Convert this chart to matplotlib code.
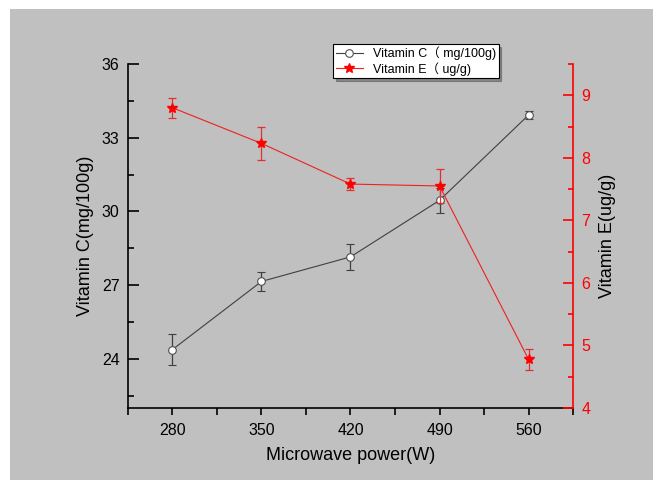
import matplotlib.pyplot as plt
from matplotlib.patches import Rectangle
from matplotlib.ticker import MultipleLocator

plt.rcParams['font.family'] = ['Liberation Sans', 'Noto Sans CJK SC', 'DejaVu Sans']

power = [280, 350, 420, 490, 560]
vit_c = [24.38, 27.15, 28.15, 30.45, 33.92]
vit_c_err = [0.64, 0.37, 0.52, 0.5, 0.15]
vit_e = [8.80, 8.23, 7.58, 7.55, 4.78]
vit_e_err = [0.16, 0.27, 0.09, 0.27, 0.17]

fig = plt.figure(figsize=(6.53, 4.8), dpi=100)
fig.patch.set_facecolor('white')
fig.patches.append(Rectangle((10 / 653, 0), 1, 1 - 9 / 480, transform=fig.transFigure,
                             facecolor='#c0c0c0', edgecolor='none', zorder=-10))

ax = fig.add_axes([0.196, 0.15, 0.6815, 0.7167])
ax.set_facecolor('none')
ax2 = ax.twinx()
ax2.set_facecolor('none')

l1 = ax.errorbar(power, vit_c, yerr=vit_c_err, color='#404040', lw=0.8, marker='o',
                 ms=5.5, mfc='white', mec='#505050', mew=0.8, capsize=3, elinewidth=0.9,
                 capthick=0.9, label='Vitamin C\uff08 mg/100g)')
l2 = ax2.errorbar(power, vit_e, yerr=vit_e_err, color='#f02020', lw=0.8, marker='*',
                  ms=7, mfc='red', mec='red', capsize=3, elinewidth=0.9,
                  capthick=0.9, ecolor='#e03030', label='Vitamin E\uff08 ug/g)')

ax.set_xlim(245, 595)
ax.set_ylim(22, 36)
ax2.set_ylim(4, 9.5)

ax.xaxis.set_major_locator(MultipleLocator(70))
ax.xaxis.set_minor_locator(MultipleLocator(35))
ax.yaxis.set_major_locator(MultipleLocator(3))
ax.yaxis.set_minor_locator(MultipleLocator(1.5))
ax2.yaxis.set_major_locator(MultipleLocator(1))
ax2.yaxis.set_minor_locator(MultipleLocator(0.5))

for a in (ax, ax2):
    a.spines['top'].set_visible(False)
ax.spines['right'].set_visible(False)
ax2.spines['left'].set_visible(False)
ax2.spines['bottom'].set_visible(False)
ax2.spines['right'].set_color('red')
ax2.spines['right'].set_linewidth(1.2)
ax.spines['left'].set_linewidth(1.2)
ax.spines['bottom'].set_linewidth(1.2)

ax.tick_params(axis='y', direction='in', length=8, width=1.2, labelsize=11.5, pad=6)
ax.tick_params(axis='y', which='minor', direction='in', length=4, width=1.2)
ax.tick_params(axis='x', direction='out', length=5, width=1.2, labelsize=11.5, pad=6)
ax.tick_params(axis='x', which='minor', direction='out', length=5, width=1.2)
ax2.tick_params(axis='y', direction='in', length=7, width=1.2, colors='red',
                labelsize=11.5, pad=6)
ax2.tick_params(axis='y', which='minor', direction='in', length=3.5, width=1.2, colors='red')

ax.set_xlabel('Microwave power(W)', fontsize=13, labelpad=6)
ax.set_ylabel('Vitamin C(mg/100g)', fontsize=13, labelpad=6)
ax2.set_ylabel('Vitamin E(ug/g)', fontsize=13, labelpad=6, color='black')

leg = fig.legend([l1[0], l2[0]], [l1.get_label(), l2.get_label()], loc='upper left',
                 bbox_to_anchor=(333 / 653, 1 - 44 / 480), fontsize=9, frameon=True,
                 fancybox=False, shadow=True, edgecolor='black', framealpha=1,
                 handlelength=2.2, borderpad=0.2, labelspacing=0.15, borderaxespad=0)
leg.get_frame().set_linewidth(0.8)

fig.savefig('out.png', dpi=100)
